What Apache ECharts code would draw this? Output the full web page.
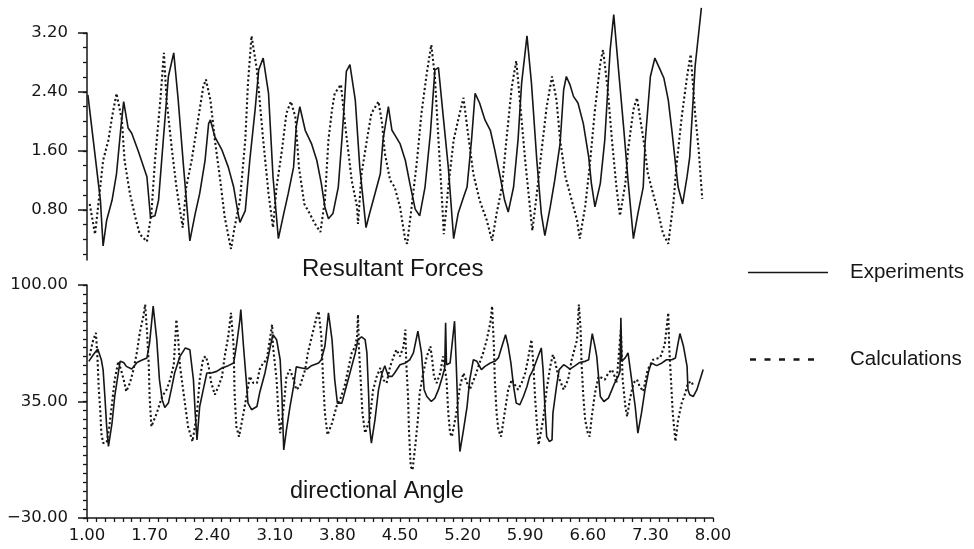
<!DOCTYPE html>
<html>
<head>
<meta charset="utf-8">
<title>Resultant Forces / directional Angle</title>
<script src="https://cdn.jsdelivr.net/npm/echarts@6/dist/echarts.min.js"></script>
<style>
  html, body { margin: 0; padding: 0; background: #fff; }
  #chart { width: 974px; height: 549px; }
</style>
</head>
<body>
<div id="chart"></div>
<script>
// tick labels
var timeTicks  = [1.00, 1.70, 2.40, 3.10, 3.80, 4.50, 5.20, 5.90, 6.60, 7.30, 8.00];
var forceTicks = [0.80, 1.60, 2.40, 3.20];
var angleTicks = [-30, 35, 100];

// Resultant Forces - Experiments (solid)
var forceExpTime = [1.01,1.15,1.18,1.22,1.28,1.33,1.38,1.41,1.46,1.50,
  1.57,1.67,1.71,1.76,1.80,1.85,1.91,1.97,2.02,2.08,
  2.15,2.21,2.26,2.32,2.36,2.38,2.43,2.51,2.58,2.64,
  2.69,2.71,2.77,2.82,2.88,2.92,2.97,3.03,3.08,3.14,
  3.20,3.25,3.31,3.34,3.38,3.44,3.51,3.57,3.62,3.66,
  3.70,3.75,3.81,3.85,3.88,3.90,3.94,4.00,4.05,4.12,
  4.16,4.22,4.28,4.31,4.37,4.41,4.44,4.50,4.56,4.61,
  4.67,4.72,4.78,4.84,4.89,4.93,4.98,5.04,5.10,5.15,
  5.21,5.25,5.30,5.34,5.39,5.45,5.51,5.56,5.62,5.67,
  5.71,5.77,5.82,5.86,5.92,5.97,6.03,6.08,6.12,6.18,
  6.23,6.29,6.33,6.36,6.40,6.44,6.49,6.55,6.61,6.64,
  6.68,6.74,6.79,6.85,6.89,6.94,7.00,7.05,7.11,7.16,
  7.22,7.24,7.30,7.35,7.41,7.45,7.50,7.54,7.58,7.61,
  7.66,7.71,7.74,7.80,7.84,7.87];
var forceExp = [2.36,0.93,0.31,0.66,0.93,1.29,1.93,2.27,1.91,1.84,
  1.61,1.25,0.70,0.72,0.93,1.70,2.61,2.93,2.29,1.38,
  0.38,0.75,1.02,1.47,1.97,2.02,1.79,1.61,1.38,1.11,
  0.75,0.63,0.79,1.47,2.16,2.70,2.86,2.38,1.25,0.41,
  0.75,1.02,1.38,1.93,2.20,1.88,1.70,1.47,1.16,0.84,
  0.68,0.75,1.11,1.75,2.29,2.68,2.77,2.29,1.38,0.56,
  0.75,1.02,1.29,1.75,2.20,1.88,1.82,1.70,1.47,1.16,
  0.81,0.72,1.11,1.84,2.70,2.73,2.11,1.38,0.41,0.75,
  0.97,1.11,1.75,2.38,2.25,2.02,1.88,1.61,1.25,0.93,
  0.77,1.11,1.75,2.52,3.16,2.52,1.47,0.75,0.45,0.84,
  1.20,1.70,2.43,2.61,2.50,2.34,2.25,1.97,1.52,1.16,
  0.84,1.16,1.75,2.97,3.45,2.75,1.93,1.20,0.41,0.75,
  1.11,1.70,2.61,2.86,2.70,2.59,2.29,1.88,1.43,1.11,
  0.88,1.25,1.52,2.75,3.20,3.54];

// Resultant Forces - Calculations (dotted)
var forceCalcTime = [1.03,1.09,1.14,1.18,1.24,1.28,1.33,1.39,1.42,1.48,
  1.54,1.59,1.67,1.72,1.76,1.82,1.86,1.89,1.95,2.00,
  2.07,2.11,2.17,2.23,2.30,2.33,2.38,2.43,2.49,2.54,
  2.61,2.65,2.71,2.77,2.80,2.84,2.90,2.97,3.03,3.08,
  3.12,3.18,3.23,3.28,3.33,3.37,3.43,3.49,3.55,3.61,
  3.66,3.70,3.74,3.77,3.84,3.88,3.92,3.96,4.02,4.03,
  4.07,4.13,4.18,4.26,4.30,4.33,4.39,4.44,4.50,4.56,
  4.58,4.63,4.69,4.74,4.80,4.85,4.89,4.93,4.97,4.99,
  5.04,5.10,5.15,5.21,5.26,5.32,5.39,5.47,5.53,5.58,
  5.64,5.69,5.75,5.80,5.84,5.90,5.93,5.98,6.03,6.08,
  6.14,6.20,6.25,6.29,6.35,6.42,6.48,6.51,6.57,6.62,
  6.68,6.74,6.77,6.82,6.87,6.92,6.96,7.02,7.05,7.11,
  7.15,7.20,7.24,7.27,7.33,7.39,7.44,7.50,7.56,7.59,
  7.65,7.71,7.75,7.80,7.84,7.88];
var forceCalc = [0.88,0.47,1.02,1.47,1.75,2.06,2.38,2.02,1.47,1.02,
  0.70,0.47,0.37,0.75,1.47,2.29,2.93,2.29,1.61,1.11,
  0.56,1.11,1.47,1.93,2.47,2.57,2.29,1.75,1.20,0.70,
  0.27,0.56,0.93,1.75,2.52,3.16,2.70,1.75,1.02,0.56,
  1.11,1.61,2.11,2.27,2.06,1.38,0.88,0.75,0.61,0.50,
  0.93,1.75,2.16,2.38,2.50,2.02,1.61,1.20,0.84,0.61,
  1.29,1.75,2.11,2.27,1.97,1.57,1.20,1.11,0.84,0.38,
  0.34,0.84,1.47,2.11,2.66,3.04,2.61,1.75,0.93,0.47,
  1.11,1.75,2.02,2.32,1.84,1.29,0.93,0.66,0.38,0.75,
  1.11,1.75,2.47,2.82,2.29,1.47,1.11,0.52,1.02,1.57,
  2.20,2.61,2.29,1.75,1.25,0.93,0.66,0.41,0.84,1.38,
  2.16,2.79,2.97,2.47,1.75,1.11,0.72,1.16,1.61,2.16,
  2.32,1.93,1.61,1.30,1.02,0.75,0.48,0.34,0.93,1.38,
  2.06,2.61,2.91,2.11,1.61,0.95];

// directional Angle - Experiments (solid)
var angleExpTime = [1.02,1.07,1.12,1.16,1.18,1.20,1.22,1.24,1.28,1.31,
  1.35,1.37,1.41,1.44,1.50,1.56,1.61,1.67,1.70,1.74,
  1.78,1.81,1.84,1.87,1.91,1.95,1.98,2.04,2.10,2.15,
  2.19,2.21,2.23,2.26,2.30,2.34,2.39,2.45,2.51,2.58,
  2.64,2.67,2.71,2.72,2.75,2.78,2.80,2.84,2.90,2.93,
  2.99,3.05,3.08,3.12,3.16,3.18,3.20,3.23,3.27,3.31,
  3.34,3.40,3.46,3.51,3.59,3.62,3.66,3.70,3.74,3.77,
  3.80,3.85,3.88,3.94,4.00,4.03,4.07,4.11,4.13,4.15,
  4.16,4.18,4.22,4.26,4.30,4.33,4.37,4.41,4.44,4.50,
  4.56,4.61,4.65,4.70,4.74,4.77,4.80,4.85,4.89,4.93,
  4.97,5.00,5.01,5.02,5.06,5.11,5.13,5.15,5.17,5.21,
  5.25,5.28,5.32,5.36,5.41,5.45,5.51,5.56,5.60,5.64,
  5.68,5.71,5.74,5.77,5.80,5.84,5.88,5.92,5.95,5.99,
  6.03,6.08,6.10,6.12,6.14,6.17,6.20,6.21,6.25,6.28,
  6.33,6.36,6.40,6.46,6.51,6.57,6.61,6.63,6.65,6.68,
  6.70,6.72,6.74,6.78,6.83,6.87,6.90,6.94,6.96,6.97,
  6.98,7.02,7.05,7.09,7.13,7.16,7.20,7.24,7.28,7.31,
  7.37,7.43,7.48,7.54,7.58,7.61,7.63,7.67,7.71,7.72,
  7.74,7.78,7.82,7.89];
var angleExp = [57.4,61.1,64.3,58.3,52.8,37.8,21.0,9.9,23.0,37.8,
  50.9,57.4,56.8,54.6,53.1,56.8,58.0,59.3,67.7,88.2,
  69.5,47.2,36.0,31.7,34.1,43.4,50.9,60.2,64.9,63.9,
  47.2,28.5,13.6,32.2,41.6,50.9,50.9,51.8,53.7,55.0,
  56.5,65.8,80.7,86.3,65.8,47.2,34.1,30.4,32.2,39.7,
  50.9,65.8,72.3,69.5,58.3,37.8,8.0,19.2,32.2,43.4,
  54.3,53.7,53.1,55.0,56.5,58.3,65.8,84.5,69.5,47.2,
  34.1,34.1,39.7,50.9,62.1,69.5,71.0,69.5,62.1,37.8,
  21.0,11.8,24.8,41.6,50.9,55.0,49.0,49.0,50.9,55.5,
  56.5,58.3,62.1,74.2,62.1,41.6,37.8,35.0,36.9,41.6,
  48.1,53.7,78.9,55.5,56.5,79.8,54.6,24.8,7.1,19.2,
  32.2,47.2,58.3,57.4,52.8,54.6,56.5,57.4,59.3,65.8,
  72.3,65.8,56.5,43.4,34.1,33.2,37.8,43.4,49.0,52.8,
  58.3,64.9,52.8,32.2,15.4,12.7,13.6,28.5,43.4,52.8,
  55.5,54.6,53.1,55.0,56.8,57.4,58.3,65.8,72.9,65.8,
  60.2,49.0,37.8,35.0,36.9,41.6,45.3,49.0,51.8,81.7,
  57.4,59.5,62.1,47.2,32.2,17.4,28.5,41.6,51.8,56.5,
  55.0,56.5,58.3,58.3,59.3,67.7,72.9,65.8,54.6,41.6,
  38.8,37.8,41.6,52.8];

// directional Angle - Calculations (dotted)
var angleCalcTime = [1.03,1.07,1.10,1.12,1.13,1.15,1.16,1.18,1.22,1.25,
  1.28,1.31,1.35,1.38,1.41,1.44,1.48,1.52,1.56,1.59,
  1.63,1.65,1.67,1.69,1.70,1.72,1.78,1.84,1.89,1.93,
  1.97,2.00,2.02,2.04,2.10,2.13,2.18,2.23,2.26,2.30,
  2.33,2.36,2.39,2.43,2.47,2.51,2.54,2.58,2.61,2.64,
  2.65,2.67,2.70,2.75,2.79,2.82,2.86,2.90,2.93,2.97,
  3.01,3.07,3.08,3.12,3.14,3.16,3.20,3.23,3.27,3.31,
  3.34,3.38,3.44,3.47,3.51,3.57,3.59,3.62,3.64,3.66,
  3.69,3.74,3.79,3.83,3.88,3.92,3.96,4.00,4.02,4.03,
  4.04,4.06,4.08,4.11,4.16,4.20,4.24,4.28,4.31,4.35,
  4.39,4.43,4.46,4.50,4.54,4.56,4.57,4.59,4.60,4.62,
  4.64,4.67,4.70,4.72,4.76,4.80,4.84,4.86,4.88,4.91,
  4.95,4.98,5.02,5.04,5.06,5.08,5.13,5.17,5.21,5.25,
  5.28,5.34,5.39,5.43,5.47,5.51,5.53,5.55,5.56,5.58,
  5.60,5.63,5.67,5.71,5.75,5.77,5.82,5.86,5.90,5.93,
  5.97,5.99,6.01,6.03,6.05,6.10,6.14,6.18,6.21,6.23,
  6.27,6.33,6.38,6.42,6.48,6.50,6.52,6.53,6.55,6.57,
  6.60,6.62,6.64,6.68,6.72,6.76,6.79,6.83,6.87,6.90,
  6.92,6.94,6.96,6.97,6.99,7.02,7.04,7.07,7.11,7.15,
  7.18,7.22,7.27,7.33,7.41,7.46,7.50,7.51,7.53,7.55,
  7.58,7.61,7.65,7.69,7.72,7.76,7.78];
var angleCalc = [60.6,69.5,73.3,56.5,43.4,28.5,17.4,11.8,12.1,21.0,
  34.1,47.2,57.4,52.8,47.2,40.6,45.3,52.8,63.0,73.3,
  82.6,89.1,75.1,56.5,37.8,21.0,28.5,37.8,41.6,47.2,
  55.5,80.7,69.5,54.6,32.2,21.0,12.7,28.5,47.2,59.3,
  60.2,54.6,45.3,38.8,43.4,49.0,60.2,71.4,84.5,65.8,
  39.7,21.0,15.4,28.5,39.7,49.0,45.3,45.3,52.8,56.5,
  58.3,77.9,65.8,47.2,28.5,17.4,32.2,49.0,52.8,47.2,
  41.6,43.4,52.8,62.1,70.5,82.6,85.4,71.4,47.2,28.5,
  16.4,23.0,32.2,36.0,43.4,52.8,62.1,65.8,71.4,83.5,
  65.8,47.2,28.5,17.4,24.8,41.6,49.0,53.7,47.2,45.3,
  54.6,60.2,63.9,60.2,65.8,75.1,56.5,37.8,19.2,-1.3,
  -3.2,9.9,24.8,39.7,50.9,60.2,65.8,58.3,49.0,45.3,
  50.9,60.2,47.2,28.5,17.4,15.4,28.5,43.4,50.9,45.3,
  41.6,49.0,56.5,62.1,69.5,78.9,88.2,65.8,47.2,28.5,
  19.2,15.4,28.5,41.6,47.2,45.3,41.6,45.3,50.9,58.3,
  69.5,56.5,37.8,23.0,10.8,24.8,41.6,54.6,61.1,58.3,
  49.0,41.6,47.2,58.3,69.5,89.1,75.1,56.5,37.8,24.8,
  17.4,15.4,24.8,39.7,49.0,48.1,47.2,50.9,52.8,49.0,
  45.3,56.5,69.5,75.1,47.2,32.2,26.6,36.0,45.3,47.2,
  43.4,40.6,52.8,58.3,59.5,66.7,84.5,65.8,47.2,28.5,
  12.7,24.8,34.1,39.7,45.3,46.2,43.4];

var INK = '#161616';
var NUM_FONT = 'DejaVu Sans';
var TXT_FONT = 'Liberation Sans';

// legend keys (80x14 box; the bare M points only fix the box)
var SOLID_KEY  = 'path://M0,0M80,14M0,6.2h80v1.6h-80z';
var DASHED_KEY = 'path://M0,0M80,14M2,5.8h6v2.4h-6zM16.5,5.8h6v2.4h-6zM31,5.8h6v2.4h-6z' +
                 'M45.5,5.8h6v2.4h-6zM60,5.8h6v2.4h-6z';

function pairs(t, v) {
  return t.map(function (x, i) { return [x, v[i]]; });
}

// evenly spaced minor tick positions
function steps(from, to, step) {
  var out = [];
  for (var k = Math.round(from / step); k * step <= to + 1e-9; k++) {
    out.push(+(k * step).toFixed(3));
  }
  return out;
}

function fmt(v) {
  return v < 0 ? '\u2212' + Math.abs(v).toFixed(2) : v.toFixed(2);
}

function labelAxis(grid, min, max, ticks) {
  return {
    type: 'value', gridIndex: grid, position: 'left', min: min, max: max,
    axisLine: { show: true, onZero: false, lineStyle: { color: INK, width: 1.5 } },
    axisTick: { show: true, customValues: ticks, length: 9, lineStyle: { color: INK, width: 1.5 } },
    axisLabel: { customValues: ticks, formatter: fmt, margin: 19, color: INK,
      fontFamily: NUM_FONT, fontSize: 16.5 },
    splitLine: { show: false }
  };
}

function minorAxis(grid, min, max, ticks) {
  return {
    type: 'value', gridIndex: grid, position: 'left', min: min, max: max,
    axisLine: { show: false, onZero: false },
    axisTick: { show: true, customValues: ticks, length: 4, lineStyle: { color: INK, width: 1.3 } },
    axisLabel: { show: false },
    splitLine: { show: false }
  };
}

function solid(name, x, y, data) {
  return {
    name: name, type: 'line', xAxisIndex: x, yAxisIndex: y, data: data,
    symbol: 'none', clip: false, color: INK,
    lineStyle: { color: INK, width: 1.6 }
  };
}

function dotted(name, x, y, data) {
  return {
    name: name, type: 'line', xAxisIndex: x, yAxisIndex: y, data: data,
    symbol: 'none', clip: false, color: INK,
    lineStyle: { color: INK, width: 2.1, type: [2.1, 2.5] }
  };
}

var chart = echarts.init(document.getElementById('chart'), null, { renderer: 'canvas' });

chart.setOption({
  animation: false,
  backgroundColor: '#ffffff',
  textStyle: { fontFamily: TXT_FONT },
  title: [
    { text: 'Resultant Forces', left: 302, top: 257, padding: 0,
      textStyle: { fontFamily: TXT_FONT, fontSize: 24, fontWeight: 'normal', color: INK } },
    { text: 'directional Angle', left: 290, top: 480, padding: 0,
      textStyle: { fontFamily: TXT_FONT, fontSize: 23.5, fontWeight: 'normal', color: INK } }
  ],
  legend: {
    orient: 'vertical', left: 748, top: 262, padding: 0,
    itemWidth: 80, itemHeight: 14, itemGap: 66,
    textStyle: { fontFamily: TXT_FONT, fontSize: 20.5, color: INK, padding: [0, 0, 0, 17] },
    data: [
      { name: 'Experiments', icon: SOLID_KEY, itemStyle: { color: INK, opacity: 1 } },
      { name: 'Calculations', icon: DASHED_KEY, itemStyle: { color: INK, opacity: 1 } }
    ]
  },
  grid: [
    { left: 87, right: 261, top: 33, bottom: 289 },
    { left: 87, right: 261, top: 285, bottom: 31 }
  ],
  xAxis: [
    { type: 'value', gridIndex: 0, min: 1, max: 8, show: false },
    {
      type: 'value', gridIndex: 1, min: 1, max: 8,
      axisLine: { show: true, onZero: false, lineStyle: { color: INK, width: 1.5 } },
      axisTick: { show: true, customValues: steps(1, 8, 0.1), length: 4,
        lineStyle: { color: INK, width: 1.3 } },
      axisLabel: { customValues: timeTicks, formatter: fmt, margin: 9, color: INK,
        fontFamily: NUM_FONT, fontSize: 16.5 },
      splitLine: { show: false }
    }
  ],
  yAxis: [
    labelAxis(0, 0.12, 3.2, forceTicks),
    minorAxis(0, 0.12, 3.2, steps(0.2, 3.2, 0.2)),
    labelAxis(1, -30, 100, angleTicks),
    minorAxis(1, -30, 100, steps(-30, 100, 5))
  ],
  series: [
    solid('Experiments', 0, 0, pairs(forceExpTime, forceExp)),
    dotted('Calculations', 0, 0, pairs(forceCalcTime, forceCalc)),
    solid('Experiments', 1, 2, pairs(angleExpTime, angleExp)),
    dotted('Calculations', 1, 2, pairs(angleCalcTime, angleCalc))
  ]
});
</script>
</body>
</html>
